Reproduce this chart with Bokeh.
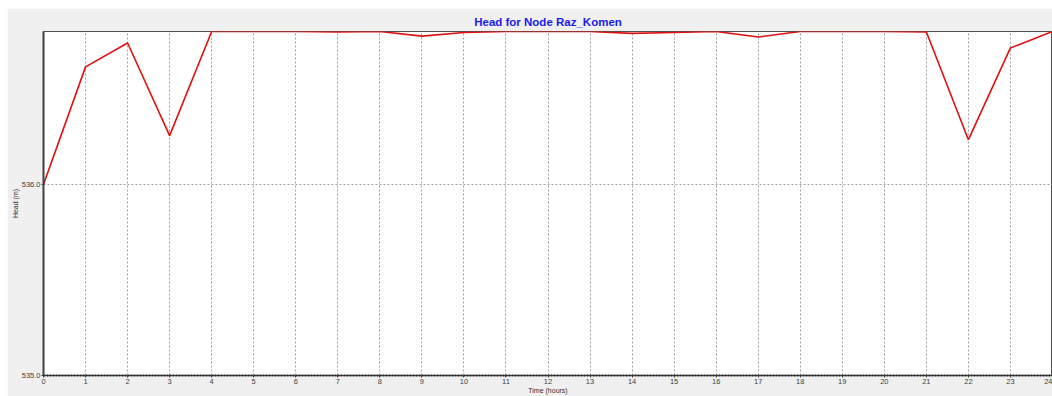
from bokeh.plotting import figure
from bokeh.models import Range1d, FixedTicker, NumeralTickFormatter
from bokeh.embed import file_html
from bokeh.resources import INLINE

hours = list(range(25))
head_m = [536.0, 536.615, 536.74, 536.255, 536.80, 536.80, 536.80, 536.797, 536.80,
          536.776, 536.795, 536.80, 536.80, 536.80, 536.79, 536.795, 536.80, 536.771,
          536.80, 536.80, 536.80, 536.797, 536.234, 536.714, 536.80]
x_ticks = list(range(25))
y_ticks = [535.0, 536.0]
title_text = "Head for Node Raz_Komen"
x_label = "Time (hours)"
y_label = "Head (m)"

FONT = "Liberation Sans"

p = figure(width=1045, height=388, output_backend="svg", toolbar_location=None,
           x_range=Range1d(0, 24), y_range=Range1d(535.0, 536.8),
           min_border_left=36, min_border_top=23, min_border_bottom=19, min_border_right=0,
           margin=(8, 0, 0, 7))
p.background_fill_color = "white"
p.border_fill_color = "#f0f0f0"
p.outline_line_color = "#505050"
p.outline_line_width = 1

p.title.text = title_text
p.title.align = "center"
p.title.text_color = "#1a1aee"
p.title.text_font = FONT
p.title.text_font_size = "11.5px"
p.title.text_font_style = "bold"
p.title.standoff = 7
p.title.offset = 0

p.line(hours, head_m, line_color="#e01010", line_width=1.6)

for ax in (p.xaxis, p.yaxis):
    ax.major_label_text_font = FONT
    ax.major_label_text_font_size = "7.5px"
    ax.major_label_text_color = "#404040"
    ax.minor_tick_line_color = None
    ax.major_tick_in = 0
    ax.major_tick_out = 2
    ax.major_tick_line_color = "#404040"
    ax.axis_label_text_font = FONT
    ax.axis_label_text_font_style = "normal"
    ax.axis_label_text_color = "#303030"
    ax.axis_label_standoff = 0
    ax.major_label_standoff = 1

p.xaxis.ticker = FixedTicker(ticks=x_ticks)
p.xaxis.axis_line_color = "#202020"
p.xaxis.axis_line_width = 2
p.xaxis.axis_line_dash = "2 1"
p.xaxis.axis_label = x_label
p.xaxis.axis_label_text_font_size = "7px"

p.yaxis.ticker = FixedTicker(ticks=y_ticks)
p.yaxis.formatter = NumeralTickFormatter(format="0.0")
p.yaxis.axis_line_color = "#404040"
p.yaxis.axis_line_width = 2
p.yaxis.axis_label = y_label
p.yaxis.axis_label_text_font_size = "7px"

p.xgrid.ticker = FixedTicker(ticks=x_ticks)
p.ygrid.ticker = FixedTicker(ticks=y_ticks)
for g in (p.xgrid, p.ygrid):
    g.grid_line_color = "#a0a0a0"
    g.grid_line_dash = "2 2"
    g.grid_line_width = 1

open("out.html", "w").write(file_html(p, INLINE))
